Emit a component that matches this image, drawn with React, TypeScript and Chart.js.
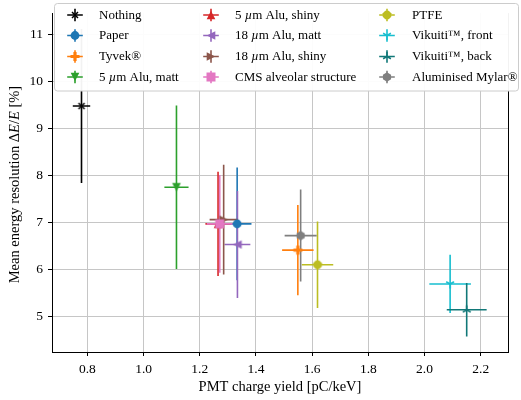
import React, { useEffect, useRef } from 'react';
import { Chart, registerables } from 'chart.js';

Chart.register(...registerables);

// ---------- data ----------
const materials = [
  'Nothing',
  'Paper',
  'Tyvek®',
  '5 µm Alu, matt',
  '5 µm Alu, shiny',
  '18 µm Alu, matt',
  '18 µm Alu, shiny',
  'CMS alveolar structure',
  'PTFE',
  'Vikuiti™, front',
  'Vikuiti™, back',
  'Aluminised Mylar®',
];
const chargeYield = [0.779, 1.333, 1.549, 1.117, 1.265, 1.334, 1.285, 1.271, 1.619, 2.091, 2.15, 1.559];
const chargeYieldErr = [0.031, 0.051, 0.056, 0.043, 0.045, 0.046, 0.05, 0.046, 0.056, 0.074, 0.071, 0.057];
const resolution = [9.48, 6.97, 6.41, 7.75, 6.97, 6.53, 7.06, 6.97, 6.1, 5.69, 5.14, 6.72];
const resolutionErr = [1.64, 1.2, 0.96, 1.74, 1.11, 1.14, 1.17, 1.04, 0.92, 0.62, 0.57, 0.98];
const colors = ['#000000', '#1f77b4', '#ff7f0e', '#2ca02c', '#d62728', '#9467bd', '#8c564b', '#e377c2', '#bcbd22', '#17becf', '#117878', '#7f7f7f'];
const markers = ['x', 'o', 'P', 'v', '^', '<', '>', 's', '8', '1', '2', 'h'];
const xTickValues = [0.8, 1.0, 1.2, 1.4, 1.6, 1.8, 2.0, 2.2];
const yTickValues = [5, 6, 7, 8, 9, 10, 11];
const xRange = [0.674, 2.297];
const yRange = [4.24, 11.46];
const xTitle = 'PMT charge yield [pC/keV]';

const FONT = '"Liberation Serif", "Times New Roman", serif';

function polygon(ctx: CanvasRenderingContext2D, pts: number[][]) {
  ctx.beginPath();
  pts.forEach((p, i) => (i ? ctx.lineTo(p[0], p[1]) : ctx.moveTo(p[0], p[1])));
  ctx.closePath();
  ctx.fill();
}

function regular(n: number, r: number, rot: number) {
  const pts: number[][] = [];
  for (let i = 0; i < n; i++) {
    const a = rot + (i * 2 * Math.PI) / n;
    pts.push([Math.cos(a) * r, Math.sin(a) * r]);
  }
  return pts;
}

function drawMarker(ctx: CanvasRenderingContext2D, kind: string, cx: number, cy: number, color: string) {
  ctx.save();
  ctx.translate(cx, cy);
  ctx.fillStyle = color;
  ctx.strokeStyle = color;
  ctx.lineWidth = 1.5;
  const t = 4.3;
  switch (kind) {
    case 'x': {
      const r = 3;
      ctx.beginPath();
      ctx.moveTo(-r, -r); ctx.lineTo(r, r);
      ctx.moveTo(-r, r); ctx.lineTo(r, -r);
      ctx.stroke();
      break;
    }
    case 'o':
      ctx.beginPath();
      ctx.arc(0, 0, 4.4, 0, Math.PI * 2);
      ctx.fill();
      break;
    case 'P': {
      const a = 4.5, b = 1.6;
      polygon(ctx, [[-b, -a], [b, -a], [b, -b], [a, -b], [a, b], [b, b], [b, a], [-b, a], [-b, b], [-a, b], [-a, -b], [-b, -b]]);
      break;
    }
    case '^': polygon(ctx, [[0, -t], [t, t], [-t, t]]); break;
    case 'v': polygon(ctx, [[0, t], [t, -t], [-t, -t]]); break;
    case '<': polygon(ctx, [[-t, 0], [t, -t], [t, t]]); break;
    case '>': polygon(ctx, [[t, 0], [-t, -t], [-t, t]]); break;
    case 's': polygon(ctx, [[-4.5, -4.5], [4.5, -4.5], [4.5, 4.5], [-4.5, 4.5]]); break;
    case '8': polygon(ctx, regular(8, 4.6, Math.PI / 8)); break;
    case 'h': polygon(ctx, regular(6, 4.7, -Math.PI / 2)); break;
    case '1':
    case '2': {
      const r = 4.5;
      const s = kind === '1' ? 1 : -1;
      ctx.beginPath();
      ctx.moveTo(0, 0); ctx.lineTo(0, s * r);
      ctx.moveTo(0, 0); ctx.lineTo(r * 0.866, -s * r * 0.5);
      ctx.moveTo(0, 0); ctx.lineTo(-r * 0.866, -s * r * 0.5);
      ctx.stroke();
      break;
    }
  }
  ctx.restore();
}

function markerImage(kind: string, color: string) {
  const c = document.createElement('canvas');
  c.width = 16;
  c.height = 16;
  const g = c.getContext('2d')!;
  drawMarker(g, kind, 8, 8, color);
  return c;
}

function richText(ctx: CanvasRenderingContext2D, parts: { t: string; it?: boolean }[], x: number, y: number, size: number) {
  let cx = x;
  for (const p of parts) {
    ctx.font = `${p.it ? 'italic ' : ''}${size}px ${FONT}`;
    ctx.fillText(p.t, cx, y);
    cx += ctx.measureText(p.t).width;
  }
}
function richWidth(ctx: CanvasRenderingContext2D, parts: { t: string; it?: boolean }[], size: number) {
  let w = 0;
  for (const p of parts) {
    ctx.font = `${p.it ? 'italic ' : ''}${size}px ${FONT}`;
    w += ctx.measureText(p.t).width;
  }
  return w;
}
function splitMu(s: string) {
  const i = s.indexOf('µ');
  if (i < 0) return [{ t: s }];
  return [{ t: s.slice(0, i) }, { t: 'µ', it: true }, { t: s.slice(i + 1) }];
}

const errorBarPlugin = {
  id: 'errorBars',
  beforeDatasetsDraw(chart: any) {
    const { ctx, scales } = chart;
    const xs = scales.x, ys = scales.y;
    ctx.save();
    ctx.lineWidth = 1.6;
    for (let i = 0; i < materials.length; i++) {
      const px = xs.getPixelForValue(chargeYield[i]);
      const py = ys.getPixelForValue(resolution[i]);
      const x0 = xs.getPixelForValue(chargeYield[i] - chargeYieldErr[i]);
      const x1 = xs.getPixelForValue(chargeYield[i] + chargeYieldErr[i]);
      const y0 = ys.getPixelForValue(resolution[i] - resolutionErr[i]);
      const y1 = ys.getPixelForValue(resolution[i] + resolutionErr[i]);
      ctx.strokeStyle = colors[i];
      ctx.beginPath();
      ctx.moveTo(x0, py); ctx.lineTo(x1, py);
      ctx.moveTo(px, y0); ctx.lineTo(px, y1);
      ctx.stroke();
    }
    ctx.restore();
  },
  afterDraw(chart: any) {
    const { ctx, chartArea } = chart;
    ctx.save();
    // right spine
    ctx.strokeStyle = '#000';
    ctx.lineWidth = 1;
    ctx.beginPath();
    ctx.moveTo(Math.round(chartArea.right) + 0.5, chartArea.top);
    ctx.lineTo(Math.round(chartArea.right) + 0.5, chartArea.bottom + 0.5);
    ctx.stroke();

    ctx.fillStyle = '#000';
    // x title
    ctx.font = `14.5px ${FONT}`;
    ctx.textAlign = 'center';
    ctx.textBaseline = 'middle';
    ctx.fillText(xTitle, (chartArea.left + chartArea.right) / 2, 387);

    // y title
    const yParts = [
      { t: 'Mean energy resolution Δ' },
      { t: 'E', it: true },
      { t: '/' },
      { t: 'E', it: true },
      { t: ' [%]' },
    ];
    ctx.save();
    ctx.translate(15, (chartArea.top + chartArea.bottom) / 2 + 2);
    ctx.rotate(-Math.PI / 2);
    ctx.textAlign = 'left';
    const w = richWidth(ctx, yParts, 14.5);
    richText(ctx, yParts, -w / 2, 0, 14.5);
    ctx.restore();

    // legend
    const bx = 54.5, by = 3.5, bw = 464, bh = 87.5;
    ctx.beginPath();
    ctx.roundRect(bx, by, bw, bh, 3);
    ctx.fillStyle = 'rgba(255,255,255,0.95)';
    ctx.fill();
    ctx.strokeStyle = '#cccccc';
    ctx.lineWidth = 1;
    ctx.stroke();

    const colHandle = [75, 211, 387];
    const colText = [99, 235, 412];
    const rowY = [15, 35.5, 56.5, 77];
    ctx.textAlign = 'left';
    ctx.textBaseline = 'middle';
    for (let i = 0; i < materials.length; i++) {
      const col = Math.floor(i / 4), row = i % 4;
      const hx = colHandle[col], hy = rowY[row];
      ctx.strokeStyle = colors[i];
      ctx.lineWidth = 1.6;
      ctx.beginPath();
      ctx.moveTo(hx - 7.8, hy); ctx.lineTo(hx + 7.8, hy);
      ctx.moveTo(hx, hy - 6.2); ctx.lineTo(hx, hy + 6.2);
      ctx.stroke();
      drawMarker(ctx, markers[i], hx, hy, colors[i]);
      ctx.fillStyle = '#000';
      richText(ctx, splitMu(materials[i]), colText[col], hy + 0.5, 13);
    }
    ctx.restore();
  },
};

export default function App() {
  const ref = useRef<HTMLCanvasElement | null>(null);
  useEffect(() => {
    document.body.style.margin = '0';
    const canvas = ref.current!;
    const datasets = materials.map((m, i) => ({
      label: m,
      data: [{ x: chargeYield[i], y: resolution[i] }],
      pointStyle: markerImage(markers[i], colors[i]),
      pointRadius: 5,
      backgroundColor: colors[i],
      borderColor: colors[i],
      showLine: false,
      order: materials.length - i,
    }));
    const gridColor = '#c6c6c6';
    const chart = new Chart(canvas, {
      type: 'scatter',
      data: { datasets },
      plugins: [errorBarPlugin],
      options: {
        responsive: false,
        animation: false,
        events: [],
        layout: { padding: { top: 13, right: 13, left: 0, bottom: 0 } },
        plugins: { legend: { display: false }, tooltip: { enabled: false } },
        scales: {
          x: {
            type: 'linear',
            min: xRange[0],
            max: xRange[1],
            afterBuildTicks: (s: any) => { s.ticks = xTickValues.map((v) => ({ value: v })); },
            afterFit: (s: any) => { s.height = 48; },
            grid: { color: gridColor, tickColor: '#000', tickLength: 4, lineWidth: 1 },
            border: { display: true, color: '#000', width: 1 },
            ticks: {
              color: '#000',
              font: { family: FONT, size: 13.5 },
              padding: 5,
              maxRotation: 0,
              callback: (v: any) => Number(v).toFixed(1),
            },
          },
          y: {
            type: 'linear',
            min: yRange[0],
            max: yRange[1],
            afterBuildTicks: (s: any) => { s.ticks = yTickValues.map((v) => ({ value: v })); },
            afterFit: (s: any) => { s.width = 52; },
            grid: { color: gridColor, tickColor: '#000', tickLength: 4, lineWidth: 1 },
            border: { display: true, color: '#000', width: 1 },
            ticks: {
              color: '#000',
              font: { family: FONT, size: 13.5 },
              padding: 5,
              callback: (v: any) => String(v),
            },
          },
        },
      },
    } as any);
    return () => chart.destroy();
  }, []);
  return (
    <div style={{ width: 521, height: 400, position: 'relative', background: '#fff' }}>
      <canvas ref={ref} width={521} height={400} style={{ display: 'block' }} />
    </div>
  );
}
